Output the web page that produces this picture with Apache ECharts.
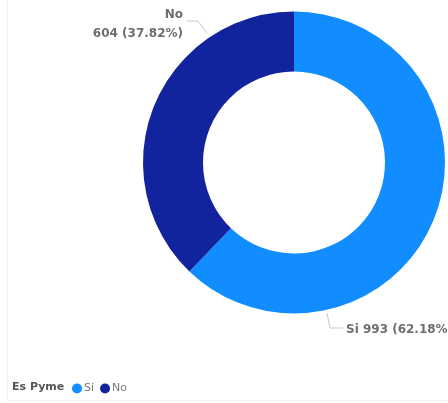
<!DOCTYPE html>
<html><head><meta charset="utf-8">
<script src="https://cdn.jsdelivr.net/npm/echarts@6/dist/echarts.min.js"></script>
<style>html,body{margin:0;padding:0;background:#fff}#c{width:448px;height:403px}</style>
</head><body><div id="c"></div>
<script>
const categories = ['Si', 'No'];
const values = [993, 604];
const colors = ['#118DFF', '#12239E'];
const legendTitle = 'Es Pyme';

const chart = echarts.init(document.getElementById('c'), null, {renderer: 'canvas'});
const font = '"DejaVu Sans", sans-serif';
chart.setOption({
  animation: false,
  graphic: [
    {type: 'line', shape: {x1: 7.5, y1: 0, x2: 7.5, y2: 400}, style: {stroke: '#f2f2f2', lineWidth: 1}},
    {type: 'line', shape: {x1: 7, y1: 400.5, x2: 448, y2: 400.5}, style: {stroke: '#f2f2f2', lineWidth: 1}},
    {type: 'text', left: 12, top: 382, style: {text: legendTitle, fill: '#555', font: 'bold 11px ' + font}}
  ],
  legend: {
    left: 72, top: 383, padding: 0, itemWidth: 10, itemHeight: 10, itemGap: 6, icon: 'circle',
    data: categories,
    textStyle: {color: '#777', fontSize: 11, fontFamily: font, padding: [0, 0, 0, -3]}
  },
  series: [{
    type: 'pie',
    center: [294, 162.5],
    radius: [91, 151],
    startAngle: 90,
    clockwise: true,
    data: categories.map((n, i) => ({name: n, value: values[i], itemStyle: {color: colors[i]}})),
    label: {
      show: true,
      color: '#6e6e6e',
      fontSize: 12,
      fontWeight: 'bold',
      fontFamily: font,
      lineHeight: 19,
      width: 130,
      overflow: 'none',
      formatter: p => p.dataIndex === 0 ? `${p.name} ${p.value} (${p.percent.toFixed(2)}%)` : `${p.name}\n${p.value} (${p.percent.toFixed(2)}%)`
    },
    labelLine: {show: true, lineStyle: {color: '#c8c8c8', width: 1}},
    labelLayout: function (p) {
      if (p.dataIndex === 0) {
        return {x: 346, y: 330, align: 'left', verticalAlign: 'middle',
          labelLinePoints: [[327, 313], [330, 328], [343, 328]]};
      }
      return {x: 183, y: 24.5, align: 'right', verticalAlign: 'middle',
        labelLinePoints: [[207, 33], [198, 21], [187, 21]]};
    }
  }]
});
</script></body></html>
